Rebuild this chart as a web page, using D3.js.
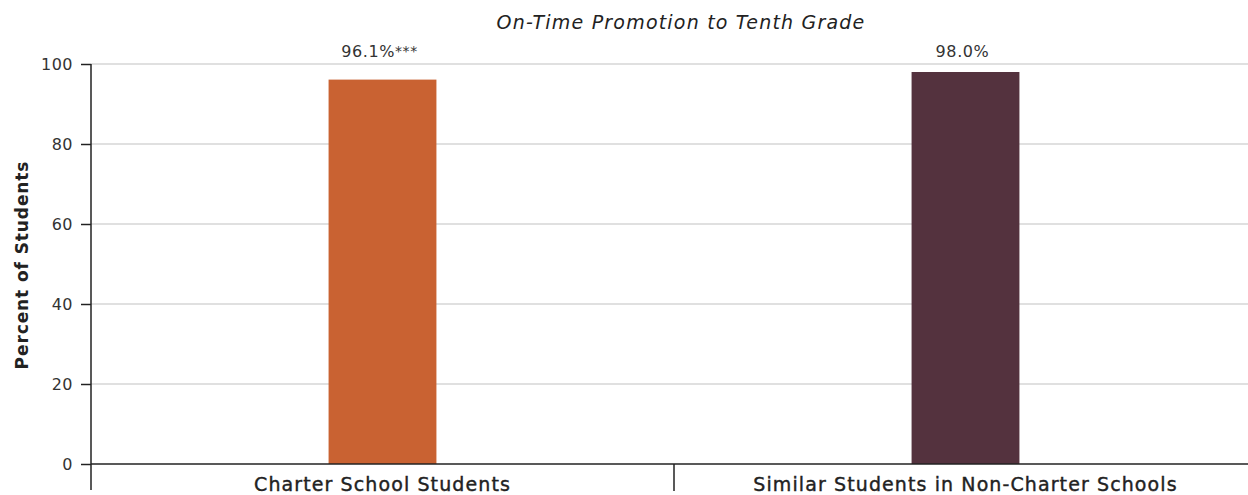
<!DOCTYPE html>
<html>
<head>
<meta charset="utf-8">
<script src="https://cdn.jsdelivr.net/npm/d3@7"></script>
<style>
  body { margin: 0; background: #fff; }
  svg { display: block; font-family: "DejaVu Sans", sans-serif; }
</style>
</head>
<body>
<svg id="chart" width="1248" height="495"></svg>
<script>
const categories = ["Charter School Students", "Similar Students in Non-Charter Schools"];
const values = [96.1, 98.0];
const valueLabels = ["96.1%", "98.0%"];
const significance = ["***", ""];
const colors = ["#C96232", "#54323E"];
const yTicks = [0, 20, 40, 60, 80, 100];

const svg = d3.select("#chart");
const margin = { left: 91, top: 64, bottom: 31 };
const height = 495 - margin.top - margin.bottom;

const x = d3.scaleBand().domain(categories).range([margin.left, 1257]).padding(0);
const y = d3.scaleLinear().domain([0, 100]).range([margin.top + height, margin.top]);
const barW = x.bandwidth() * 0.185;

// gridlines
svg.append("g")
  .selectAll("line")
  .data(yTicks.filter(t => t > 0))
  .enter().append("line")
    .attr("x1", margin.left).attr("x2", 1248)
    .attr("y1", d => y(d)).attr("y2", d => y(d))
    .style("stroke", "#d6d6d6")
    .style("stroke-width", "1.5px");

// bars
svg.append("g")
  .selectAll("rect")
  .data(values)
  .enter().append("rect")
    .attr("x", (d, i) => x(categories[i]) + x.bandwidth() / 2 - barW / 2)
    .attr("y", d => y(d))
    .attr("width", barW)
    .attr("height", d => y(0) - y(d))
    .style("fill", (d, i) => colors[i]);

// value labels
const vl = svg.append("g")
  .selectAll("text")
  .data(values)
  .enter().append("text")
    .attr("x", (d, i) => x(categories[i]) + x.bandwidth() / 2 - 3)
    .attr("y", 57)
    .attr("text-anchor", "middle")
    .style("font-size", "16px")
    .style("letter-spacing", "0.6px")
    .style("fill", "#333");
vl.append("tspan").text((d, i) => valueLabels[i]);
vl.append("tspan")
  .attr("dy", -1)
  .style("font-size", "14px")
  .text((d, i) => significance[i]);

// y axis
const yAxis = svg.append("g")
  .attr("transform", `translate(${margin.left},0)`)
  .call(d3.axisLeft(y).tickValues(yTicks).tickSize(10).tickPadding(8));
yAxis.select(".domain").attr("d", `M-0,${y(100)}V490`).style("stroke", "#222").style("stroke-width", "1.5px");
yAxis.selectAll(".tick line").style("stroke", "#222").style("stroke-width", "1.5px");
yAxis.selectAll(".tick text")
  .style("font-family", "DejaVu Sans, sans-serif")
  .style("font-size", "16px")
  .style("letter-spacing", "0.5px")
  .style("fill", "#333");

// x axis baseline and divider
const xAxis = svg.append("g")
  .attr("transform", `translate(0,${y(0)})`)
  .call(d3.axisBottom(x).tickSize(0).tickPadding(0));
xAxis.select(".domain").attr("d", `M${margin.left},0H1248`).style("stroke", "#222").style("stroke-width", "1.5px");
xAxis.selectAll(".tick text")
  .attr("y", 27)
  .attr("dy", 0)
  .style("font-family", "DejaVu Sans, sans-serif")
  .style("font-size", "19px")
  .style("letter-spacing", "1.1px")
  .style("fill", "#222")
  .style("stroke", "#222")
  .style("stroke-width", "0.4px");
xAxis.append("line")
  .attr("x1", x(categories[1])).attr("x2", x(categories[1]))
  .attr("y1", 0).attr("y2", 27)
  .style("stroke", "#222").style("stroke-width", "1.5px");

// y axis title
svg.append("text")
  .attr("transform", `translate(28,${y(50) + 1}) rotate(-90)`)
  .attr("text-anchor", "middle")
  .style("font-size", "17px")
  .style("font-weight", "bold")
  .style("letter-spacing", "0.9px")
  .style("fill", "#222")
  .text("Percent of Students");

// chart title
svg.append("text")
  .attr("x", 681)
  .attr("y", 29)
  .attr("text-anchor", "middle")
  .style("font-size", "19px")
  .style("letter-spacing", "1.2px")
  .style("font-style", "italic")
  .style("fill", "#222")
  .text("On-Time Promotion to Tenth Grade");
</script>
</body>
</html>
